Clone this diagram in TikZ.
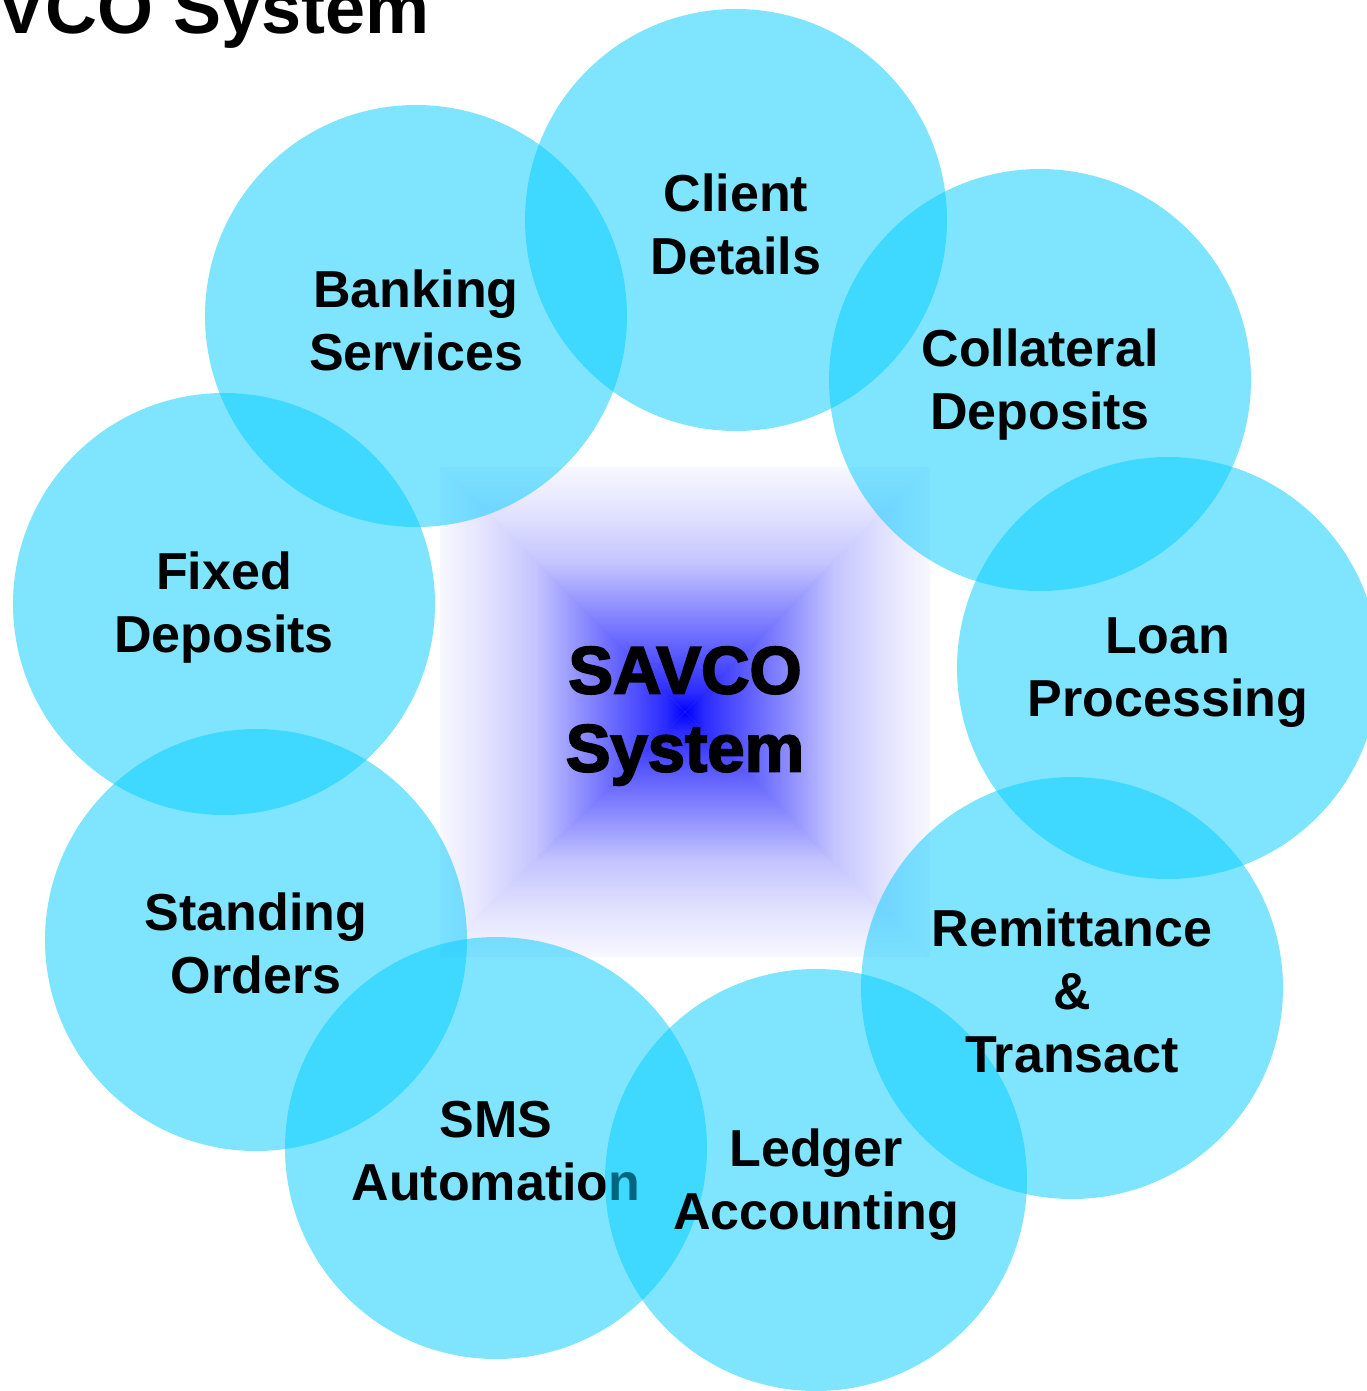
\documentclass[tikz,border=0pt]{standalone}
\usepackage{fontspec}
\setmainfont{Liberation Sans}
\newfontfamily\heavyfont[FakeBold=2.8]{Liberation Sans Bold}
\definecolor{cyanc}{RGB}{0,203,255}
% inner 25bp..75bp is what is fitted to the path
\pgfdeclareverticalshading{sqv}{100bp}{color(0bp)=(blue); color(25bp)=(blue); color(29bp)=(blue!83!white); color(36bp)=(blue!67!white); color(45.5bp)=(blue!46!white); color(55.5bp)=(blue!23!white); color(66bp)=(blue!11!white); color(75bp)=(blue!3!white); color(100bp)=(blue!3!white)}
\tikzset{
  bub/.style={circle, fill=cyanc, fill opacity=0.5, minimum size=422pt, inner sep=0pt},
  lab/.style={inner sep=0pt, align=center, font=\bfseries\fontsize{52}{63}\selectfont},
  hub/.style={inner sep=0pt, align=center, font=\heavyfont\fontsize{67}{78}\selectfont},
  ttl/.style={inner sep=0pt, anchor=base east, font=\bfseries\fontsize{72}{86}\selectfont}
}
\begin{document}
\begin{tikzpicture}[x=1pt,y=-1pt]
\useasboundingbox (0,0) rectangle (1366,1391);
% centre gradient square (four shaded triangles)
\coordinate (c) at (685,712);
\begin{scope}
\clip (c) -- (436,467) -- (934,467) -- cycle;
\shade[shading=sqv] (440,467) rectangle (930,712);
\end{scope}
\begin{scope}
\clip (c) -- (440,463) -- (440,961) -- cycle;
\shade[shading=sqv, shading angle=90] (440,467) rectangle (685,957);
\end{scope}
\begin{scope}
\clip (c) -- (436,957) -- (934,957) -- cycle;
\shade[shading=sqv, shading angle=180] (440,712) rectangle (930,957);
\end{scope}
\begin{scope}
\clip (c) -- (930,463) -- (930,961) -- cycle;
\shade[shading=sqv, shading angle=270] (685,467) rectangle (930,957);
\end{scope}
\node[hub] (hub) at (685,716) {SAVCO\\System};
% title
\node[ttl] (title) at (430,34) {SAVCO System};
% bubbles (each label drawn right after its circle so later circles cover it)
\node[bub] (client) at (736,220) {};
\node[lab] (clientT) at (736,224) {Client\\Details};
\node[bub] (bank) at (416,316) {};
\node[lab] (bankT) at (416,320) {Banking\\Services};
\node[bub] (fixed) at (224,604) {};
\node[lab] (fixedT) at (224,608) {Fixed\\Deposits};
\node[bub] (stand) at (256,940) {};
\node[lab] (standT) at (256,943) {Standing\\Orders};
\node[bub] (sms) at (496,1148) {};
\node[lab] (smsT) at (496,1151) {SMS\\Automation};
\node[bub] (ledger) at (816,1180) {};
\node[lab] (ledgerT) at (816,1185) {Ledger\\Accounting};
\node[bub] (remit) at (1072,988) {};
\node[lab] (remitT) at (1072,991) {Remittance\\\&\\Transact};
\node[bub] (loan) at (1168,668) {};
\node[lab] (loanT) at (1168,673) {Loan\\Processing};
\node[bub] (coll) at (1040,380) {};
\node[lab] (collT) at (1040,385) {Collateral\\Deposits};
\end{tikzpicture}
\end{document}
